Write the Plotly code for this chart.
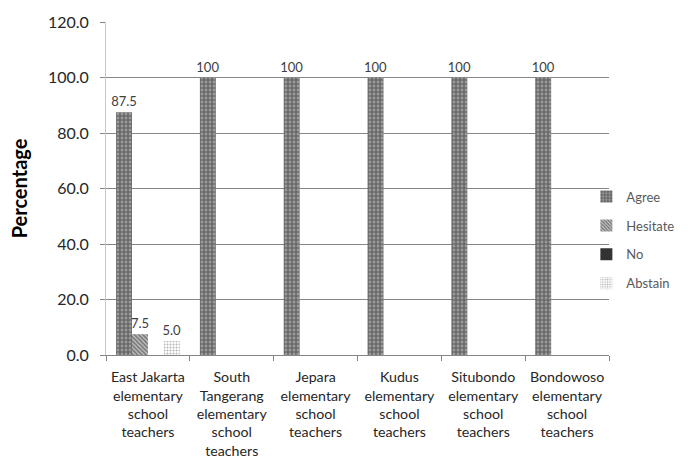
import plotly.graph_objects as go

categories = [
    "East Jakarta<br>elementary<br>school<br>teachers",
    "South<br>Tangerang<br>elementary<br>school<br>teachers",
    "Jepara<br>elementary<br>school<br>teachers",
    "Kudus<br>elementary<br>school<br>teachers",
    "Situbondo<br>elementary<br>school<br>teachers",
    "Bondowoso<br>elementary<br>school<br>teachers",
]
agree = [87.5, 100, 100, 100, 100, 100]
hesitate = [7.5, 0, 0, 0, 0, 0]
no = [0, 0, 0, 0, 0, 0]
abstain = [5.0, 0, 0, 0, 0, 0]
y_ticks = [0, 20, 40, 60, 80, 100, 120]
y_tick_labels = ["0.0", "20.0", "40.0", "60.0", "80.0", "100.0", "120.0"]


def labels(vals):
    out = []
    for v in vals:
        if v == 0:
            out.append("")
        elif v == 100:
            out.append("100")
        else:
            out.append(f"{v:.1f}")
    return out


FONT = "Lato, 'Open Sans', sans-serif"
series = [
    ("Agree", agree, dict(shape="+", fgcolor="#1e1e1e", bgcolor="#9a9a9a", size=4, solidity=0.5)),
    ("Hesitate", hesitate, dict(shape="\\", fgcolor="#000000", bgcolor="#ffffff", size=3, solidity=0.8)),
    ("No", no, dict(shape="x", fgcolor="#111111", bgcolor="#444444", size=3, solidity=0.7)),
    ("Abstain", abstain, dict(shape=".", fgcolor="#666666", bgcolor="#ffffff", size=3, solidity=0.35)),
]

fig = go.Figure()
for i, (name, vals, pat) in enumerate(series):
    fig.add_trace(go.Bar(
        name=name,
        x=categories,
        y=vals,
        text=labels(vals),
        textposition="outside",
        constraintext="none",
        textfont=dict(family=FONT, size=13, color="#404040"),
        cliponaxis=False,
        legendgroup=f"g{i}",
        marker=dict(color=pat["bgcolor"], line=dict(width=0), pattern=pat),
    ))

fig.update_layout(
    width=697,
    height=461,
    margin=dict(l=106, r=88, t=22, b=106, autoexpand=False),
    paper_bgcolor="white",
    plot_bgcolor="white",
    barmode="group",
    bargap=0.24,
    bargroupgap=0,
    font=dict(family=FONT, size=12, color="#404040"),
    showlegend=True,
    legend=dict(
        x=0.955, y=0.345, xanchor="left", yanchor="middle",
        font=dict(family=FONT, size=13, color="#595959"),
        tracegroupgap=9,
        itemwidth=30,
        bgcolor="rgba(0,0,0,0)",
    ),
    xaxis=dict(
        showline=True, linecolor="#868686", linewidth=1,
        ticks="outside", ticklen=5, tickcolor="#868686",
        tickson="boundaries",
        tickangle=0,
        ticklabelstandoff=9,
        tickfont=dict(family=FONT, size=14.2, color="#262626"),
        showgrid=False,
    ),
    yaxis=dict(
        range=[0, 120],
        tickvals=y_ticks,
        ticktext=y_tick_labels,
        showline=True, linecolor="#c8c8c8", linewidth=1,
        ticks="outside", ticklen=5, tickcolor="#868686",
        ticklabelstandoff=8,
        tickfont=dict(family=FONT, size=16, color="#262626"),
        showgrid=True, gridcolor="#868686", gridwidth=1,
        zeroline=False,
        title=dict(text="<b>Percentage</b>", font=dict(family=FONT, size=20, color="#000000"), standoff=14),
    ),
)

fig.write_html("out.html", config={"displayModeBar": False},
               post_script="document.body.style.margin='0';")
